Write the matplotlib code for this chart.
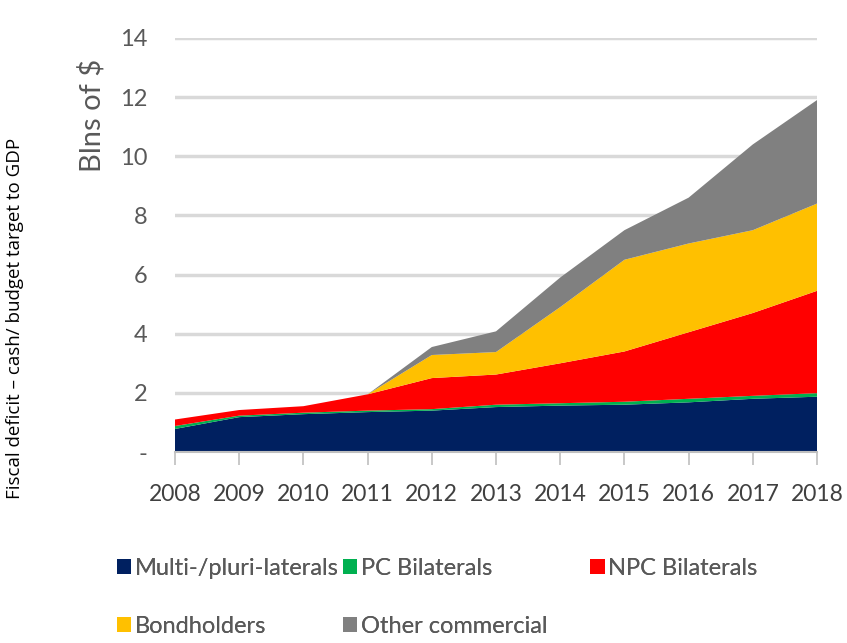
import matplotlib.pyplot as plt
from matplotlib.ticker import FixedLocator, FuncFormatter

years = [2008, 2009, 2010, 2011, 2012, 2013, 2014, 2015, 2016, 2017, 2018]

# Debt stock by creditor group, billions of $
multi = [0.78, 1.18, 1.28, 1.35, 1.40, 1.52, 1.57, 1.60, 1.68, 1.80, 1.87]
pc_bilateral = [0.10, 0.05, 0.05, 0.05, 0.05, 0.08, 0.08, 0.10, 0.12, 0.10, 0.12]
npc_bilateral = [0.22, 0.19, 0.22, 0.55, 1.05, 1.02, 1.35, 1.70, 2.25, 2.80, 3.46]
bondholders = [0.0, 0.0, 0.0, 0.0, 0.78, 0.76, 1.90, 3.10, 3.00, 2.80, 2.95]
other_commercial = [0.0, 0.0, 0.0, 0.0, 0.27, 0.70, 1.00, 1.00, 1.55, 2.90, 3.50]

labels = ["Multi-/pluri-laterals", "PC Bilaterals", "NPC Bilaterals",
          "Bondholders", "Other commercial"]
colors = ["#002060", "#00B050", "#FF0000", "#FFC000", "#808080"]

plt.rcParams["font.family"] = ["Lato", "DejaVu Sans"]
text_color = "#595959"

fig = plt.figure(figsize=(8.47, 6.43), dpi=100)
ax = fig.add_axes([0.2066, 0.297, 0.758, 0.644])

polys = ax.stackplot(years, multi, pc_bilateral, npc_bilateral, bondholders,
                     other_commercial, colors=colors, labels=labels, zorder=2)

ax.set_xlim(2008, 2018)
ax.set_ylim(0, 14)

# Horizontal gridlines only
ax.yaxis.set_major_locator(FixedLocator(range(0, 15, 2)))
ax.yaxis.set_major_formatter(FuncFormatter(lambda v, p: "-" if v == 0 else f"{v:.0f}"))
ax.grid(axis="y", color="#d9d9d9", linewidth=2.5, zorder=0)
ax.set_axisbelow(True)
ax.tick_params(axis="y", length=0, pad=20, labelsize=17, labelcolor=text_color)

ax.set_xticks(years)
ax.tick_params(axis="x", direction="out", length=9, width=1.2, color="#bfbfbf",
               pad=14, labelsize=16.5, labelcolor="#404040")

for side in ["top", "right", "left"]:
    ax.spines[side].set_visible(False)
ax.spines["bottom"].set_color("#bfbfbf")
ax.spines["bottom"].set_linewidth(1.5)

ax.text(-0.129, 0.812, "Blns of $", transform=ax.transAxes, rotation=90,
        ha="center", va="center", fontsize=21, color=text_color)

fig.text(0.018, 0.504, "Fiscal deficit \u2013 cash/ budget target to GDP",
         rotation=90, ha="center", va="center", fontsize=13.5,
         family=["Open Sans", "DejaVu Sans"], color="black")

# one legend per column so the columns sit where wanted
columns = [([0, 3], 0.113), ([1, 4], 0.380), ([2], 0.672)]
for idx, x0 in columns:
    leg = fig.legend([polys[i] for i in idx], [labels[i] for i in idx],
                     loc="upper left", bbox_to_anchor=(x0, 0.165),
                     frameon=False, fontsize=17, labelcolor=text_color,
                     handlelength=0.6, handleheight=0.6, handletextpad=0.15,
                     labelspacing=1.55)
    fig.add_artist(leg)

fig.savefig("out.png", dpi=100)
